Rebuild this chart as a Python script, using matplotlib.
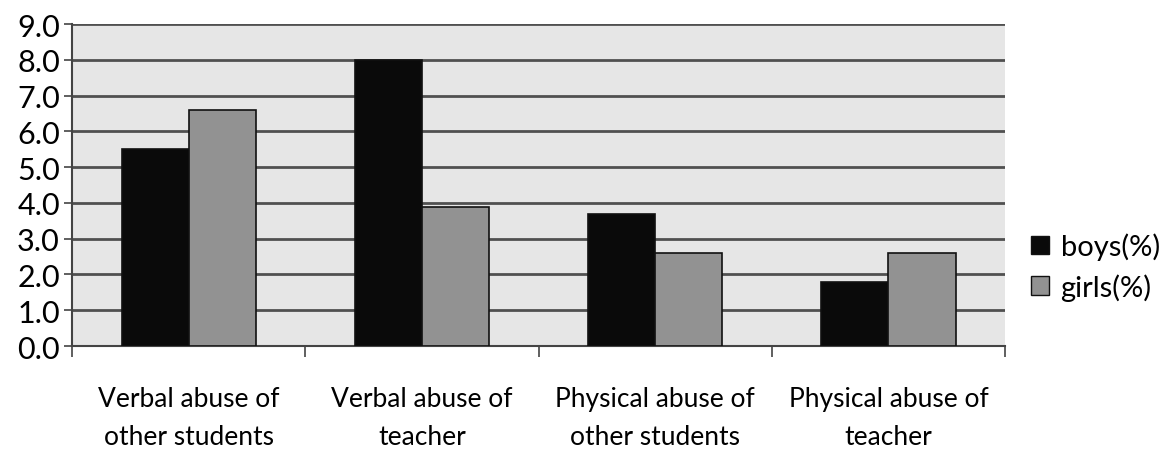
import numpy as np
import matplotlib.pyplot as plt
from matplotlib.patches import Patch

categories = ["Verbal abuse of\nother students", "Verbal abuse of\nteacher",
              "Physical abuse of\nother students", "Physical abuse of\nteacher"]
boys = [5.5, 8.0, 3.7, 1.8]
girls = [6.6, 3.9, 2.6, 2.6]

plt.rcParams['font.family'] = ['Lato', 'DejaVu Sans']

fig = plt.figure(figsize=(11.66, 4.56), dpi=100)
ax = fig.add_axes([0.062, 0.239, 0.800, 0.706])
ax.set_facecolor('#e6e6e6')

x = np.arange(len(categories))
w = 0.288
ax.bar(x - w / 2, boys, w, color='#0a0a0a', edgecolor='#111111', linewidth=1.2, zorder=3)
ax.bar(x + w / 2, girls, w, color='#929292', edgecolor='#111111', linewidth=1.2, zorder=3)

ax.set_xlim(-0.5, len(categories) - 0.5)
ax.set_ylim(0, 9)
ax.set_yticks(np.arange(0, 9.1, 1.0))
ax.set_yticklabels([f"{v:.1f}" for v in np.arange(0, 9.1, 1.0)], fontsize=22)
ax.yaxis.grid(True, color='#505050', linewidth=2, zorder=1)
ax.set_axisbelow(True)

ax.set_xticks(np.arange(-0.5, len(categories)), minor=False)
ax.set_xticklabels([])
ax.set_xticks(x, minor=True)
ax.set_xticklabels(categories, minor=True, fontsize=19, linespacing=1.65)
ax.tick_params(axis='x', which='minor', length=0, pad=29)
ax.tick_params(axis='x', which='major', length=8, width=1.2, color='#444444')
ax.tick_params(axis='y', length=6, width=1.2, color='#444444', pad=3)

for s in ['top', 'right']:
    ax.spines[s].set_visible(False)
for s in ['left', 'bottom']:
    ax.spines[s].set_color('#444444')
    ax.spines[s].set_linewidth(1.5)

handles = [Patch(facecolor='#0a0a0a', edgecolor='#111111', label='boys(%)'),
           Patch(facecolor='#929292', edgecolor='#111111', label='girls(%)')]
fig.legend(handles=handles, loc='center left', bbox_to_anchor=(0.862, 0.413),
           frameon=False, fontsize=21, handlelength=0.6, handleheight=0.6,
           handletextpad=0.4, labelspacing=0.45)

fig.savefig('out.png', dpi=100)
